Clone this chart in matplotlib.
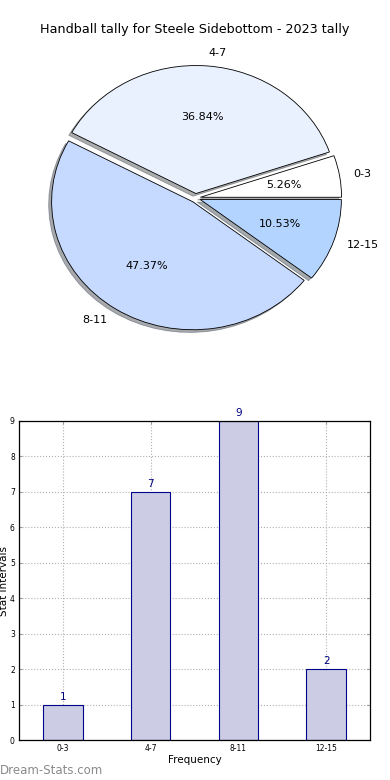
import matplotlib
matplotlib.use("Agg")
import matplotlib.pyplot as plt

title = "Handball tally for Steele Sidebottom - 2023 tally"
categories = ["0-3", "4-7", "8-11", "12-15"]
counts = [1, 7, 9, 2]
pie_colors = ["#ffffff", "#eaf1fe", "#c6d9fe", "#b3d4fe"]
explode = [0.035, 0.035, 0.035, 0.035]

fig = plt.figure(figsize=(3.9, 7.8), dpi=100)

# Pie chart
ax1 = fig.add_axes([19/390, 1-358/780, 353/390, 320/780])
wedges, texts, autotexts = ax1.pie(
    counts, labels=categories, colors=pie_colors, explode=explode,
    autopct="%1.2f%%", startangle=0, shadow=dict(ox=-0.015, oy=-0.015, alpha=0.45),
    wedgeprops=dict(edgecolor="black", linewidth=0.6),
    textprops=dict(fontsize=8))
ax1.set_aspect("auto")
ax1.set_xlim(-1.25, 1.25)
ax1.set_ylim(-1.25, 1.25)
fig.text(0.5, 1-30/780, title, ha="center", va="center", fontsize=9.2)

# Bar chart
ax2 = fig.add_axes([19/390, 1-740/780, 351/390, 319/780])
x = list(range(len(categories)))
bars = ax2.bar(x, counts, width=0.45, color="#ccccE4", edgecolor="#00008b",
               linewidth=0.8, zorder=2)
for xi, c in zip(x, counts):
    ax2.text(xi, c + 0.08, str(c), ha="center", va="bottom", fontsize=7.5,
             color="#000080")
ax2.set_xlim(-0.5, 3.5)
ax2.set_ylim(0, 9)
ax2.set_yticks(range(0, 10))
ax2.set_xticks(x)
ax2.set_xticklabels(categories)
ax2.tick_params(labelsize=5.5, length=2, direction="in", color="#999999",
                top=True, right=True, pad=3)
ax2.grid(True, linestyle=":", color="#b0b0b0", linewidth=0.8, zorder=0)
ax2.set_axisbelow(True)
for s in ax2.spines.values():
    s.set_linewidth(0.9)
ax2.set_xlabel("Frequency", fontsize=7.5, labelpad=1)
ax2.set_ylabel("Stat Intervals", fontsize=7.5, labelpad=1)

fig.text(0.0, 1-771/780, "Dream-Stats.com", ha="left", va="center",
         fontsize=8.5, color="#8a8a8a")

fig.savefig("out.png", dpi=100)
